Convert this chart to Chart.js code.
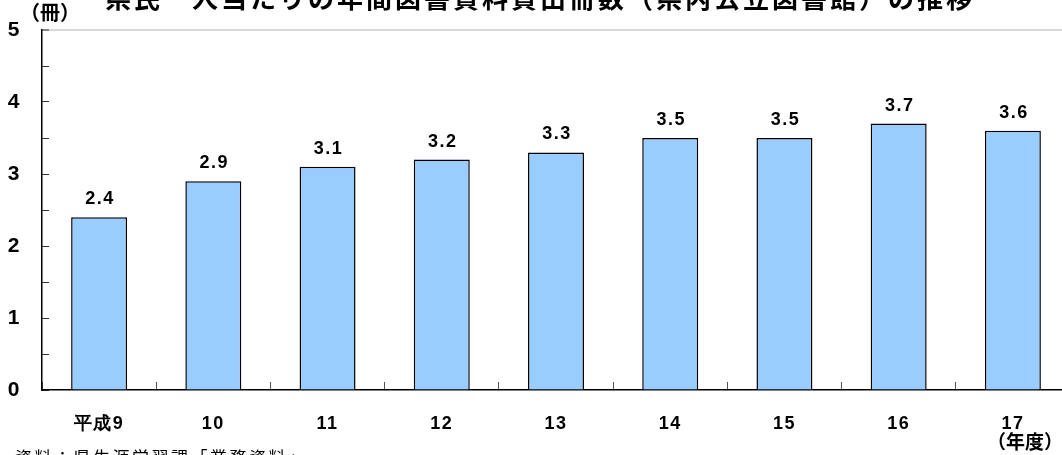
<!DOCTYPE html>
<html lang="ja">
<head>
<meta charset="utf-8">
<script src="https://cdn.jsdelivr.net/npm/chart.js@4"></script>
<style>
  html, body { margin: 0; padding: 0; background: #fff; overflow: hidden; }
  #wrap { position: relative; width: 1072px; height: 455px; }
</style>
</head>
<body>
<div id="wrap"><canvas id="barChart" width="1072" height="455"></canvas></div>
<script>
// データ
const years = ['平成9', '10', '11', '12', '13', '14', '15', '16', '17'];
const lendingPerPerson = [2.4, 2.9, 3.1, 3.2, 3.3, 3.5, 3.5, 3.7, 3.6];
const yMin = 0;
const yMax = 5;
const yStep = 0.5;

const titleText = '県民一人当たりの年間図書資料貸出冊数（県内公立図書館）の推移';
const unitText = '（冊）';
const yearUnitText = '（年度）';
const sourceText = '資料：県生涯学習課「業務資料」';

const numFont = "bold 18px 'Liberation Sans', Arial, sans-serif";
const jpFont = "'Noto Sans CJK JP', sans-serif";

// 棒の上の数値とタイトルなど
const labelPlugin = {
    id: 'labelPlugin',
    beforeDraw(chart) {
        chart.ctx.letterSpacing = '1.5px';
    },
    afterDatasetsDraw(chart) {
        const ctx = chart.ctx;
        const meta = chart.getDatasetMeta(0);
        ctx.save();
        ctx.fillStyle = '#000';
        ctx.font = numFont;
        ctx.letterSpacing = '1.5px';
        ctx.textAlign = 'center';
        ctx.textBaseline = 'alphabetic';
        meta.data.forEach((bar, i) => {
            ctx.fillText(lendingPerPerson[i].toFixed(1), bar.x + 1, bar.y - 13);
        });
        ctx.restore();
    },
    afterDraw(chart) {
        const ctx = chart.ctx;
        const area = chart.chartArea;
        ctx.save();
        ctx.fillStyle = '#000';

        // タイトル（上が切れている）
        ctx.font = "bold 26px " + jpFont;
        ctx.letterSpacing = '3px';
        ctx.textAlign = 'center';
        ctx.textBaseline = 'middle';
        ctx.fillText(titleText, 540, -2);

        // 単位
        ctx.font = "bold 20px " + jpFont;
        ctx.letterSpacing = '0px';
        ctx.fillText(unitText, area.left + 8, 12);

        // 年度
        ctx.font = "bold 19px " + jpFont;
        ctx.fillText(yearUnitText, 1025, 442);

        // 資料
        ctx.font = "17px " + jpFont;
        ctx.letterSpacing = '2.5px';
        ctx.textAlign = 'left';
        ctx.textBaseline = 'top';
        ctx.fillText(sourceText, 15, 449);
        ctx.restore();
    }
};

const ctx = document.getElementById('barChart').getContext('2d');
const barChart = new Chart(ctx, {
    type: 'bar',
    data: {
        labels: years,
        datasets: [{
            data: lendingPerPerson,
            backgroundColor: '#99CCFF',
            borderColor: '#000',
            borderWidth: 1.5,
            categoryPercentage: 1.0,
            barPercentage: 0.49
        }]
    },
    options: {
        responsive: false,
        animation: false,
        layout: { padding: { top: 30, right: 2, left: 0, bottom: 0 } },
        plugins: {
            legend: { display: false },
            tooltip: { enabled: false },
            title: { display: false }
        },
        scales: {
            x: {
                grid: {
                    offset: true,
                    drawOnChartArea: false,
                    drawTicks: true,
                    tickLength: -8,
                    tickColor: '#555',
                    tickWidth: 1
                },
                border: { display: true, color: '#000', width: 1.5 },
                ticks: {
                    color: '#000',
                    font: { family: "'Liberation Sans', Arial, sans-serif", size: 18, weight: 'bold' },
                    padding: 31,
                    maxRotation: 0,
                    autoSkip: false
                },
                afterFit(scale) { scale.height = 65; }
            },
            y: {
                min: yMin,
                max: yMax,
                grid: {
                    drawOnChartArea: true,
                    drawTicks: true,
                    tickLength: -7,
                    color: (c) => (c.tick && c.tick.value === yMax ? '#d9d9d9' : 'rgba(0,0,0,0)'),
                    lineWidth: (c) => (c.tick && c.tick.value === yMax ? 2 : 1),
                    tickColor: '#333',
                    tickWidth: 1
                },
                border: { display: true, color: '#000', width: 1.5 },
                ticks: {
                    stepSize: yStep,
                    color: '#000',
                    font: { family: "'Liberation Sans', Arial, sans-serif", size: 21, weight: 'bold' },
                    padding: 28,
                    callback: (v) => (Number.isInteger(v) ? String(v) : '')
                },
                afterFit(scale) {
                    scale.width = 42;
                    scale.paddingTop = 0;
                    scale.paddingBottom = 0;
                }
            }
        }
    },
    plugins: [labelPlugin]
});
</script>
</body>
</html>
